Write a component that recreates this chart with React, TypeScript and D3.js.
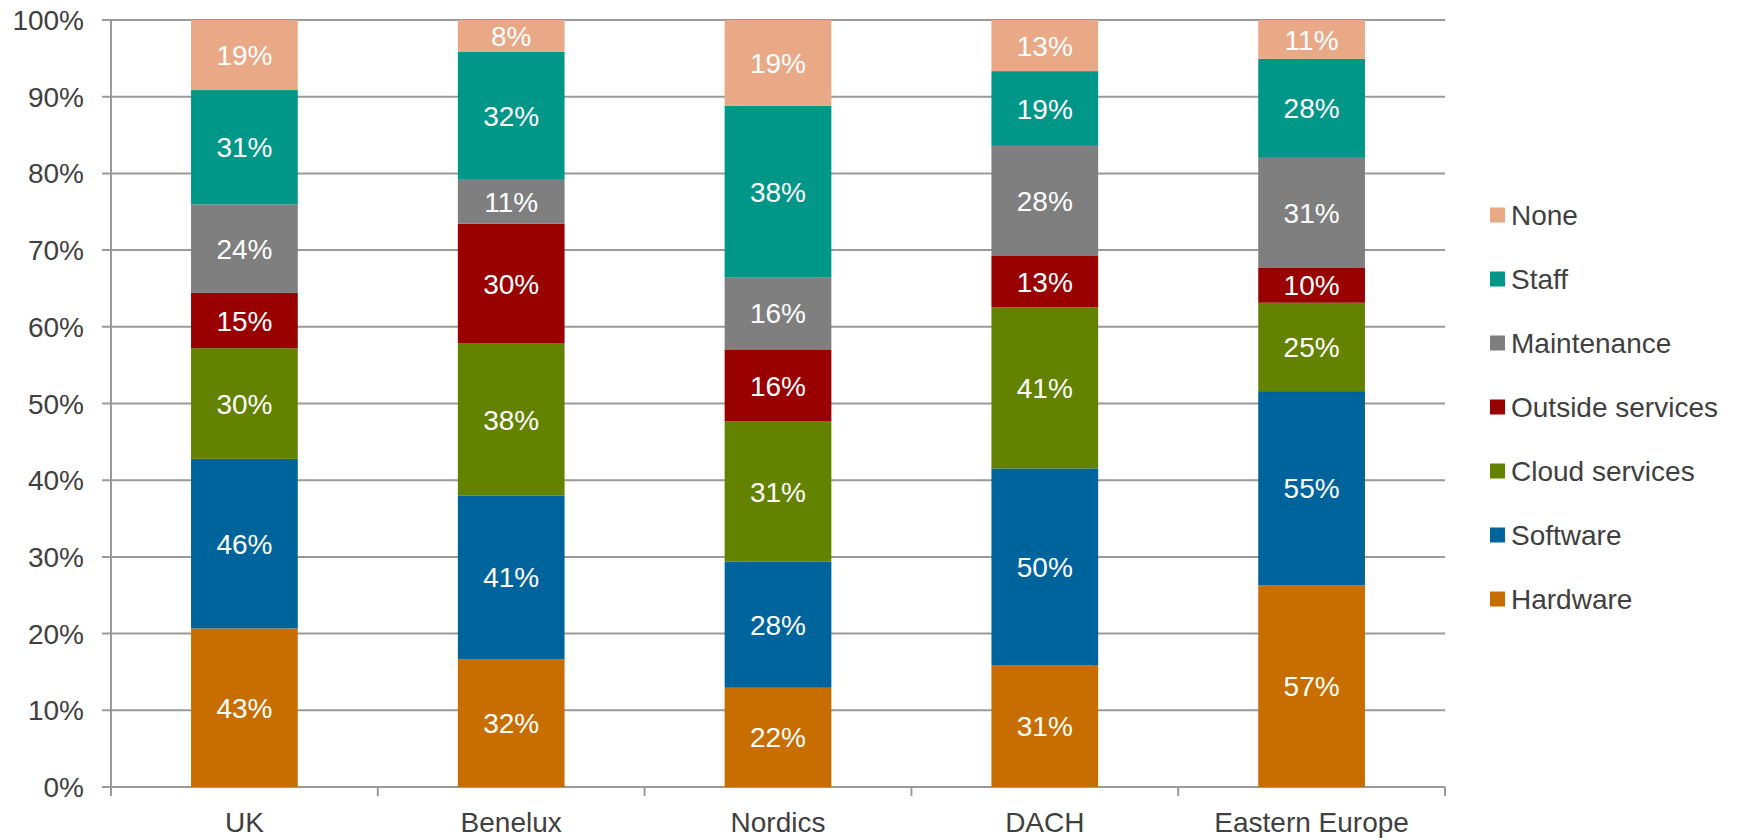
import React, { useEffect, useRef } from 'react';
import * as d3 from 'd3';

const regions = ['UK', 'Benelux', 'Nordics', 'DACH', 'Eastern Europe'];
const seriesNames = ['Hardware', 'Software', 'Cloud services', 'Outside services', 'Maintenance', 'Staff', 'None'];
const seriesColors = ['#C86E00', '#00649C', '#638200', '#990000', '#7F7F7F', '#009688', '#E9A886'];

// percent of respondents per region, series order as seriesNames
const hardware = [43, 32, 22, 31, 57];
const software = [46, 41, 28, 50, 55];
const cloudServices = [30, 38, 31, 41, 25];
const outsideServices = [15, 30, 16, 13, 10];
const maintenance = [24, 11, 16, 28, 31];
const staff = [31, 32, 38, 19, 28];
const none = [19, 8, 19, 13, 11];

const yTicks = [0, 0.1, 0.2, 0.3, 0.4, 0.5, 0.6, 0.7, 0.8, 0.9, 1];

const W = 1745;
const H = 838;
const margin = { top: 20, right: 300, bottom: 51, left: 111 };
const font = '"Liberation Sans", Arial, sans-serif';

const App = () => {
  const ref = useRef<SVGSVGElement>(null);

  useEffect(() => {
    draw();
  });

  const draw = () => {
    const svg = d3.select(ref.current);
    svg.selectAll('*').remove();

    const width = W - margin.left - margin.right;
    const height = H - margin.top - margin.bottom;
    const g = svg.append('g').attr('transform', `translate(${margin.left},${margin.top})`);

    const columns = [hardware, software, cloudServices, outsideServices, maintenance, staff, none];
    const rows = regions.map((r, i) => {
      const row: any = { region: r };
      seriesNames.forEach((s, j) => {
        row[s] = columns[j][i];
      });
      return row;
    });

    const stacked = d3.stack().keys(seriesNames).offset(d3.stackOffsetExpand)(rows);

    const x = d3.scaleBand().domain(regions).range([0, width]).paddingInner(0.6).paddingOuter(0.3);
    const step = x.step();
    const y = d3.scaleLinear().domain([0, 1]).range([height, 0]);

    // gridlines
    g.append('g')
      .selectAll('line')
      .data(yTicks)
      .enter()
      .append('line')
      .attr('x1', -9)
      .attr('x2', width)
      .attr('y1', (d) => y(d))
      .attr('y2', (d) => y(d))
      .attr('stroke', '#9a9a9a')
      .attr('stroke-width', 2);

    // y tick labels
    g.append('g')
      .selectAll('text')
      .data(yTicks)
      .enter()
      .append('text')
      .attr('x', -27)
      .attr('y', (d) => y(d))
      .attr('dy', '0.36em')
      .attr('text-anchor', 'end')
      .attr('font-family', font)
      .attr('font-size', 28)
      .attr('fill', '#404040')
      .text((d) => d3.format('.0%')(d));

    // category ticks
    g.append('g')
      .selectAll('line')
      .data(d3.range(regions.length + 1))
      .enter()
      .append('line')
      .attr('x1', (d) => d * step)
      .attr('x2', (d) => d * step)
      .attr('y1', height)
      .attr('y2', height + 9)
      .attr('stroke', '#9a9a9a')
      .attr('stroke-width', 2);

    // y axis line
    g.append('line')
      .attr('x1', 0)
      .attr('x2', 0)
      .attr('y1', 0)
      .attr('y2', height)
      .attr('stroke', '#9a9a9a')
      .attr('stroke-width', 2);

    // bars
    const layers = g
      .selectAll('.layer')
      .data(stacked)
      .enter()
      .append('g')
      .attr('class', 'layer')
      .attr('fill', (d, i) => seriesColors[i]);

    layers
      .selectAll('rect')
      .data((d) => d)
      .enter()
      .append('rect')
      .attr('x', (d: any) => x(d.data.region) || 0)
      .attr('width', x.bandwidth())
      .attr('y', (d) => y(d[1]))
      .attr('height', (d) => y(d[0]) - y(d[1]));

    // data labels
    stacked.forEach((layer) => {
      g.append('g')
        .selectAll('text')
        .data(layer)
        .enter()
        .append('text')
        .attr('x', (d: any) => (x(d.data.region) || 0) + x.bandwidth() / 2)
        .attr('y', (d) => y((d[0] + d[1]) / 2))
        .attr('dy', '0.36em')
        .attr('text-anchor', 'middle')
        .attr('font-family', font)
        .attr('font-size', 28)
        .attr('fill', '#ffffff')
        .text((d: any) => d.data[layer.key] + '%');
    });

    // x labels
    g.append('g')
      .selectAll('text')
      .data(regions)
      .enter()
      .append('text')
      .attr('x', (d) => (x(d) || 0) + x.bandwidth() / 2)
      .attr('y', height + 45)
      .attr('text-anchor', 'middle')
      .attr('font-family', font)
      .attr('font-size', 28)
      .attr('fill', '#404040')
      .text((d) => d);

    // legend, top entry is last series
    const legend = svg.append('g').attr('transform', 'translate(1490,0)');
    const legendItems = seriesNames.slice().reverse();
    const legendColors = seriesColors.slice().reverse();
    const ly = d3.scalePoint().domain(legendItems).range([215, 599]);

    legendItems.forEach((name, i) => {
      const yy = ly(name) || 0;
      legend
        .append('rect')
        .attr('x', 0)
        .attr('y', yy - 7.5)
        .attr('width', 15)
        .attr('height', 15)
        .attr('fill', legendColors[i]);
      legend
        .append('text')
        .attr('x', 21)
        .attr('y', yy)
        .attr('dy', '0.36em')
        .attr('font-family', font)
        .attr('font-size', 28)
        .attr('fill', '#404040')
        .text(name);
    });
  };

  return <svg ref={ref} width={W} height={H} style={{ display: 'block', position: 'absolute', left: 0, top: 0 }} />;
};

export default App;
